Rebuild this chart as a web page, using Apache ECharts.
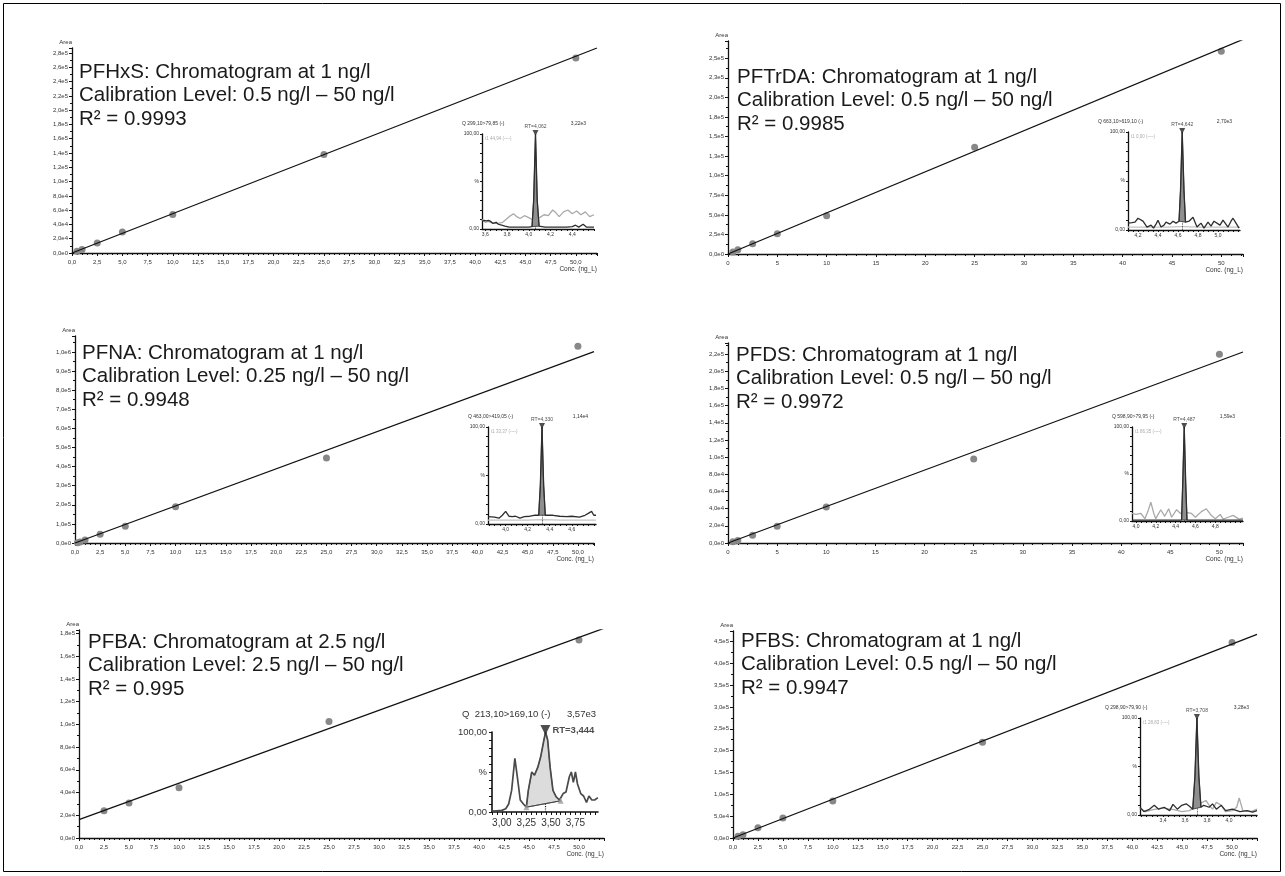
<!DOCTYPE html>
<html><head><meta charset="utf-8">
<script src="https://cdn.jsdelivr.net/npm/echarts@6/dist/echarts.min.js"></script>
<style>html,body{margin:0;padding:0;background:#fff}#c{width:1285px;height:876px}</style>
</head><body><div id="c"></div>
<script>
// ---------------- DATA ----------------
// Calibration points (concentration ng/l, area)
const concPFHxS = [0.5, 1, 2.5, 5, 10, 25, 50];
const areaPFHxS = [2500, 5000, 14000, 29500, 54000, 138000, 273000];
const fitPFHxS  = [[0, 0], [52.1, 287000]];

const concPFTrDA = [0.5, 1, 2.5, 5, 10, 25, 50];
const areaPFTrDA = [2500, 5500, 13100, 25800, 48700, 136400, 258900];
const fitPFTrDA  = [[0, 0], [52.2, 274000]];

const concPFNA = [0.25, 0.5, 1, 2.5, 5, 10, 25, 50];
const areaPFNA = [1000, 5000, 16000, 46000, 88000, 190000, 445000, 1030000];
const fitPFNA  = [[0, 0], [51.6, 1001000]];

const concPFDS = [0.5, 1, 2.5, 5, 10, 25, 50];
const areaPFDS = [1500, 3000, 8900, 19400, 42000, 98000, 220000];
const fitPFDS  = [[0, 0], [52.4, 222500]];

const concPFBA = [2.5, 5, 10, 25, 50];
const areaPFBA = [24000, 30700, 44200, 102500, 174200];
const fitPFBA  = [[0, 16100], [52.5, 184500]];

const concPFBS = [0.5, 1, 2.5, 5, 10, 25, 50];
const areaPFBS = [3800, 7600, 23600, 45700, 84500, 219000, 447500];
const fitPFBS  = [[0, 0], [52.5, 466500]];

// Header texts
const headerPFHxS  = ['PFHxS: Chromatogram at 1 ng/l', 'Calibration Level: 0.5 ng/l – 50 ng/l', 'R² = 0.9993'];
const headerPFTrDA = ['PFTrDA: Chromatogram at 1 ng/l', 'Calibration Level: 0.5 ng/l – 50 ng/l', 'R² = 0.9985'];
const headerPFNA   = ['PFNA: Chromatogram at 1 ng/l', 'Calibration Level: 0.25 ng/l – 50 ng/l', 'R² = 0.9948'];
const headerPFDS   = ['PFDS: Chromatogram at 1 ng/l', 'Calibration Level: 0.5 ng/l – 50 ng/l', 'R² = 0.9972'];
const headerPFBA   = ['PFBA: Chromatogram at 2.5 ng/l', 'Calibration Level: 2.5 ng/l – 50 ng/l', 'R² = 0.995'];
const headerPFBS   = ['PFBS: Chromatogram at 1 ng/l', 'Calibration Level: 0.5 ng/l – 50 ng/l', 'R² = 0.9947'];

// Chromatogram insets: [retention time (min), relative intensity %]
const rtPFHxS = 4.062;
const quantPFHxS = [[3.57,8],[3.59,9],[3.61,8.5],[3.63,9],[3.65,8],[3.67,6],[3.70,7],[3.72,5],[3.75,4],[3.78,3],[3.82,2],[3.9,2],[4.0,2],[4.03,2.5],[4.045,30],[4.062,100],[4.078,30],[4.095,3],[4.15,2],[4.25,2],[4.35,2],[4.40,2.5],[4.43,4],[4.46,2],[4.50,5],[4.53,2],[4.6,2]];
const qualPFHxS  = [[3.57,10],[3.6,7],[3.63,8],[3.67,6],[3.72,6],[3.76,7],[3.79,10],[3.82,13],[3.86,16],[3.89,13],[3.92,11],[3.96,14],[4.0,12],[4.03,10],[4.1,12],[4.14,15],[4.18,14],[4.22,20],[4.25,17],[4.28,13],[4.32,18],[4.36,20],[4.4,16],[4.44,19],[4.48,15],[4.52,18],[4.56,13],[4.6,15]];
const ticksPFHxS = [3.6, 3.8, 4.0, 4.2, 4.4];

const rtPFTrDA = 4.642;
const quantPFTrDA = [[4.10,7],[4.14,7.5],[4.17,8],[4.2,12],[4.22,14],[4.25,9],[4.29,3],[4.33,5],[4.355,2],[4.38,6],[4.40,10],[4.43,3],[4.46,5],[4.48,8],[4.52,6],[4.55,9],[4.58,7],[4.61,9],[4.625,40],[4.642,100],[4.66,40],[4.675,8],[4.71,9],[4.75,13],[4.79,3],[4.83,7],[4.86,2],[4.9,8],[4.93,4],[4.96,9],[4.98,11],[5.02,5],[5.05,10],[5.07,8],[5.1,3],[5.13,9],[5.15,12],[5.18,7],[5.21,2]];
const qualPFTrDA  = [[4.10,3],[4.3,3],[4.5,3],[4.62,3.5],[4.64,4],[4.66,3.5],[4.8,3],[5.0,3],[5.22,3]];
const ticksPFTrDA = [4.2, 4.4, 4.6, 4.8, 5.0];

const rtPFNA = 4.330;
const quantPFNA = [[3.84,7.5],[3.9,7],[3.94,6],[3.97,9],[4.0,13],[4.03,8],[4.06,7.5],[4.09,8],[4.13,6],[4.17,7.5],[4.22,8],[4.26,9],[4.3,9],[4.315,40],[4.33,100],[4.345,40],[4.36,9],[4.43,9],[4.49,8],[4.55,7.5],[4.6,8],[4.67,7],[4.72,9],[4.75,11],[4.78,13],[4.8,9],[4.82,9]];
const qualPFNA  = [[3.84,4],[4.0,4],[4.2,4],[4.33,4.5],[4.5,4],[4.7,4],[4.82,4]];
const ticksPFNA = [4.0, 4.2, 4.4, 4.6];

const rtPFDS = 4.487;
const quantPFDS = [[3.96,1],[4.2,1],[4.46,1],[4.472,40],[4.487,100],[4.502,40],[4.515,1],[4.8,1],[5.08,1]];
const qualPFDS  = [[3.96,8],[4.0,7],[4.05,8],[4.09,2.5],[4.12,10],[4.15,20],[4.18,8],[4.2,2.5],[4.25,12],[4.29,5],[4.33,13],[4.36,4],[4.41,12],[4.45,8],[4.48,10],[4.52,9],[4.56,8],[4.6,4],[4.66,10],[4.71,13],[4.76,6],[4.8,2.5],[4.85,7],[4.88,2],[4.93,4],[4.98,6],[5.04,2],[5.08,3]];
const ticksPFDS = [4.0, 4.2, 4.4, 4.6, 4.8];

const rtPFBA = 3.444;
const quantPFBA = [[2.9,1],[2.92,1],[2.95,1.5],[3.0,2],[3.04,4],[3.07,10],[3.1,27],[3.133,67],[3.158,44],[3.188,15],[3.22,10],[3.25,6],[3.27,27],[3.305,50],[3.333,46],[3.367,56],[3.396,69],[3.429,90],[3.446,100],[3.467,90],[3.492,56],[3.521,27],[3.554,19],[3.588,15],[3.625,23],[3.654,25],[3.688,44],[3.708,50],[3.729,37],[3.75,50],[3.771,35],[3.804,23],[3.833,20],[3.863,12],[3.888,20],[3.917,15],[3.946,15],[3.979,18]];
const qualPFBA  = [];
const baselinePFBA = [[3.25, 6], [3.6, 14]];
const ticksPFBA = [3.0, 3.25, 3.5, 3.75];

const rtPFBS = 3.708;
const quantPFBS = [[3.19,8],[3.225,3.5],[3.27,5.5],[3.32,10],[3.36,6],[3.41,8],[3.46,4.5],[3.49,11],[3.53,6],[3.57,10],[3.61,11.5],[3.64,9],[3.67,6],[3.69,40],[3.708,100],[3.726,40],[3.745,8],[3.77,10],[3.82,8],[3.85,11.5],[3.885,6],[3.93,10],[3.97,4.5],[4.03,6],[4.1,3.5],[4.165,4.5],[4.215,3],[4.255,4.5]];
const qualPFBS  = [[3.19,7],[3.24,3.5],[3.31,5.5],[3.39,7],[3.5,5.5],[3.57,3.5],[3.64,4.5],[3.69,8],[3.74,12],[3.79,15],[3.82,10],[3.85,6],[3.885,13],[3.93,10],[3.967,3.5],[4.03,4.5],[4.07,8],[4.093,17.5],[4.126,4.5],[4.2,3.5],[4.255,6]];
const ticksPFBS = [3.4, 3.6, 3.8, 4.0];

// Inset texts
const insetTitles = ['Q 299,10>79,85 (-)', 'Q 663,10>619,10 (-)', 'Q 463,00>419,05 (-)', 'Q 598,90>79,95 (-)', 'Q  213,10>169,10 (-)', 'Q 298,90>79,90 (-)'];
const insetIntensity = ['3,22e3', '2,70e3', '1,14e4', '1,59e3', '3,57e3', '3,28e3'];
const insetRtLabel = ['RT=4,062', 'RT=4,642', 'RT=4,330', 'RT=4,487', 'RT=3,444', 'RT=3,708'];
const insetTrace2 = ['t1 44,94 (----)', 't1 0,00 (----)', 't1 33,37 (----)', 't1 86,35 (----)', '', 't1 28,83 (----)'];

// ---------------- LAYOUT ----------------
const mainLayout = [
  {left: 72,  top: 48,  width: 525, height: 205},
  {left: 728, top: 41,  width: 515, height: 213},
  {left: 75,  top: 336, width: 519, height: 207},
  {left: 728, top: 343, width: 515, height: 200},
  {left: 79,  top: 630, width: 525, height: 208},
  {left: 733, top: 631, width: 524, height: 207}
];
const insetLayout = [
  {left: 482,  top: 134, width: 112, height: 95},
  {left: 1128, top: 132, width: 112, height: 98},
  {left: 488,  top: 427, width: 108, height: 97},
  {left: 1132, top: 427, width: 111, height: 94},
  {left: 492,  top: 732, width: 106, height: 80},
  {left: 1140, top: 718, width: 117, height: 97}
];
const headerPos = [[79, 72], [737, 77], [82, 353], [736, 355], [88, 642], [741, 641]];
const titleOffset = [-20, -30, -20, -20, -30, -35];

const panels = [
  {conc: concPFHxS, area: areaPFHxS, fit: fitPFHxS, header: headerPFHxS, yMax: 287000, yStep: 20000, xMax: 52.1, xInt: false,
   quant: quantPFHxS, qual: qualPFHxS, rt: rtPFHxS, ticks: ticksPFHxS, xr: [3.57, 4.6]},
  {conc: concPFTrDA, area: areaPFTrDA, fit: fitPFTrDA, header: headerPFTrDA, yMax: 272000, yStep: 25000, xMax: 52.2, xInt: true,
   quant: quantPFTrDA, qual: qualPFTrDA, rt: rtPFTrDA, ticks: ticksPFTrDA, xr: [4.1, 5.22]},
  {conc: concPFNA, area: areaPFNA, fit: fitPFNA, header: headerPFNA, yMax: 1083000, yStep: 100000, xMax: 51.6, xInt: false,
   quant: quantPFNA, qual: qualPFNA, rt: rtPFNA, ticks: ticksPFNA, xr: [3.84, 4.82]},
  {conc: concPFDS, area: areaPFDS, fit: fitPFDS, header: headerPFDS, yMax: 233000, yStep: 20000, xMax: 52.4, xInt: true,
   quant: quantPFDS, qual: qualPFDS, rt: rtPFDS, ticks: ticksPFDS, xr: [3.96, 5.08]},
  {conc: concPFBA, area: areaPFBA, fit: fitPFBA, header: headerPFBA, yMax: 183000, yStep: 20000, xMax: 52.5, xInt: false,
   quant: quantPFBA, qual: qualPFBA, rt: rtPFBA, ticks: ticksPFBA, xr: [2.9, 3.98], big: true, baseline: baselinePFBA},
  {conc: concPFBS, area: areaPFBS, fit: fitPFBS, header: headerPFBS, yMax: 474000, yStep: 50000, xMax: 52.5, xInt: false,
   quant: quantPFBS, qual: qualPFBS, rt: rtPFBS, ticks: ticksPFBS, xr: [3.19, 4.255]}
];

// ---------------- BUILD ----------------
const FONT = 'Liberation Sans, Arial, sans-serif';
const sci = v => {
  if (v === 0) return '0,0e0';
  let e = Math.floor(Math.log10(v) + 1e-9);
  let s = (v / Math.pow(10, e)).toFixed(1);
  if (s === '10.0') { e++; s = '1.0'; }
  return s.replace('.', ',') + 'e' + e;
};

const grids = [], xAxes = [], yAxes = [], series = [], graphics = [];

graphics.push({type: 'rect', shape: {x: 3.5, y: 3.5, width: 1277, height: 868},
  style: {fill: 'none', stroke: '#000', lineWidth: 1}, silent: true});

panels.forEach((p, i) => {
  const L = mainLayout[i];
  grids.push(Object.assign({}, L));
  xAxes.push({
    type: 'value', gridIndex: i, min: 0, max: p.xMax, interval: p.xInt ? 5 : 2.5,
    name: 'Conc. (ng_L)', nameLocation: 'end', nameGap: 0,
    nameTextStyle: {fontSize: 6.5, color: '#333', fontFamily: FONT, align: 'right', verticalAlign: 'top', padding: [13, 0, 0, 0]},
    axisLine: {onZero: false, lineStyle: {color: '#111', width: 1.3}},
    axisTick: {length: 3, lineStyle: {color: '#111'}},
    minorTick: {show: true, splitNumber: 5, length: 2, lineStyle: {color: '#111'}},
    splitLine: {show: false},
    axisLabel: {fontSize: 6, color: '#333', fontFamily: FONT, margin: 6, showMaxLabel: false,
      formatter: v => p.xInt ? String(Math.round(v)) : v.toFixed(1).replace('.', ',')}
  });
  yAxes.push({
    type: 'value', gridIndex: i, min: 0, max: p.yMax, interval: p.yStep,
    name: 'Area', nameLocation: 'end', nameGap: 3,
    nameTextStyle: {fontSize: 6, color: '#333', fontFamily: FONT, align: 'right'},
    axisLine: {show: true, lineStyle: {color: '#111', width: 1.3}},
    axisTick: {show: true, length: 3, lineStyle: {color: '#111'}},
    minorTick: {show: true, splitNumber: 2, length: 2, lineStyle: {color: '#111'}},
    splitLine: {show: false},
    axisLabel: {fontSize: 6, color: '#333', fontFamily: FONT, margin: 4, showMaxLabel: false, formatter: sci}
  });
  series.push({
    type: 'line', xAxisIndex: i, yAxisIndex: i, data: p.fit, symbol: 'none', silent: true, z: 3,
    lineStyle: {color: '#111', width: 1.3}
  });
  series.push({
    type: 'scatter', xAxisIndex: i, yAxisIndex: i, data: p.conc.map((c, k) => [c, p.area[k]]),
    symbolSize: 7, itemStyle: {color: '#888', opacity: 1}, z: 2, silent: true
  });
  const hp = headerPos[i];
  graphics.push({type: 'text', x: hp[0], y: hp[1] - 11.75, silent: true, z: 10,
    style: {text: p.header.join('\n'), fontSize: 20.5, fontFamily: FONT, fill: '#1a1a1a', lineHeight: 23.5, verticalAlign: 'top', align: 'left'}});
});

panels.forEach((p, i) => {
  const gi = 6 + i;
  const L = insetLayout[i];
  const big = !!p.big;
  const fs = big ? 9.5 : 5;
  grids.push(Object.assign({}, L));
  const step = big ? 0.05 : 0.05;
  const tickVals = [];
  for (let t = Math.ceil(p.xr[0] / step - 1e-9) * step; t <= p.xr[1] + 1e-9; t += step) tickVals.push(+t.toFixed(3));
  xAxes.push({
    type: 'value', gridIndex: gi, min: p.xr[0], max: p.xr[1],
    axisLine: {onZero: false, lineStyle: {color: '#111', width: big ? 1.6 : 1.3}},
    axisTick: {customValues: tickVals, length: big ? 3 : 2, lineStyle: {color: '#111'}},
    splitLine: {show: false},
    axisLabel: {customValues: p.ticks, fontSize: big ? 10 : 5, color: '#333', fontFamily: FONT, margin: big ? 6 : 3,
      formatter: v => big ? v.toFixed(2).replace('.', ',') : v.toFixed(1).replace('.', ',')}
  });
  yAxes.push({
    type: 'value', gridIndex: gi, min: 0, max: 100, interval: 10,
    axisLine: {show: true, lineStyle: {color: '#111', width: big ? 1.6 : 1.3}},
    axisTick: {show: true, length: big ? 3 : 2, lineStyle: {color: '#111'}},
    splitLine: {show: false},
    axisLabel: {fontSize: fs, color: '#333', fontFamily: FONT, margin: big ? 5 : 3,
      formatter: v => v === 100 ? '100,00' : v === 50 ? '%' : v === 0 ? '0,00' : ''}
  });
  // qualifier trace
  if (p.qual.length) {
    series.push({type: 'line', xAxisIndex: gi, yAxisIndex: gi, data: p.qual, symbol: 'none', silent: true, z: 4,
      lineStyle: {color: (i === 1 || i === 2) ? '#c4c4c4' : '#a9a9a9', width: 1.3}});
  }
  // peak fill polygon
  let poly;
  if (p.baseline) {
    poly = p.quant.filter(d => d[0] >= p.baseline[0][0] && d[0] <= p.baseline[1][0] - 0.005).concat([p.baseline[1]]);
  } else {
    poly = p.quant.filter(d => Math.abs(d[0] - p.rt) <= 0.04);
  }
  series.push({
    type: 'custom', xAxisIndex: gi, yAxisIndex: gi, silent: true, z: 5, data: [poly[0]],
    renderItem: (params, api) => ({
      type: 'polygon', shape: {points: poly.map(pt => api.coord(pt))},
      style: {fill: big ? '#dcdcdc' : '#8f8f8f', stroke: big ? '#555' : '#333', lineWidth: 0.8}
    })
  });
  // quantifier trace
  series.push({
    type: 'line', xAxisIndex: gi, yAxisIndex: gi, data: p.quant, symbol: 'none', silent: true, z: 6,
    lineStyle: {color: big ? '#4a4a4a' : '#2e2e2e', width: big ? 1.7 : 1.3},
    markLine: {silent: true, symbol: ['none', 'none'], label: {show: false},
      lineStyle: {type: 'dotted', color: '#222', width: big ? 1.2 : 0.8}, data: [{xAxis: p.rt}]}
  });
  // peak apex marker with RT label
  series.push({
    type: 'scatter', xAxisIndex: gi, yAxisIndex: gi, data: [[p.rt, 100]], silent: true, z: 7,
    symbol: 'triangle', symbolRotate: 180, symbolSize: big ? 10 : 6, symbolOffset: [0, big ? -2 : -1],
    itemStyle: {color: '#222'},
    label: {show: true, formatter: insetRtLabel[i], position: big ? 'right' : 'top', distance: big ? 2 : 1,
      fontSize: big ? 9.5 : 5, fontWeight: big ? 'bold' : 'normal', color: '#222', fontFamily: FONT}
  });
  if (p.baseline) {
    series.push({
      type: 'scatter', xAxisIndex: gi, yAxisIndex: gi, data: p.baseline, silent: true, z: 7,
      symbol: 'triangle', symbolSize: 6, itemStyle: {color: '#9a9a9a'}
    });
    series.push({
      type: 'line', xAxisIndex: gi, yAxisIndex: gi, data: p.baseline, symbol: 'none', silent: true, z: 6,
      lineStyle: {color: '#444', width: 1}
    });
  }
  // texts around the inset
  const ty = L.top - (big ? 18 : 10);
  graphics.push({type: 'text', x: L.left + titleOffset[i], y: ty, silent: true,
    style: {text: insetTitles[i], fontSize: fs, fontFamily: FONT, fill: '#333', verticalAlign: 'middle', align: 'left'}});
  graphics.push({type: 'text', x: L.left + L.width - (big ? 2 : 8), y: ty, silent: true,
    style: {text: insetIntensity[i], fontSize: fs, fontFamily: FONT, fill: '#333', verticalAlign: 'middle', align: 'right'}});
  if (insetTrace2[i]) {
    graphics.push({type: 'text', x: L.left + 3, y: L.top + 5, silent: true,
      style: {text: insetTrace2[i], fontSize: 4.5, fontFamily: FONT, fill: '#aaa', verticalAlign: 'middle', align: 'left'}});
  }
});

const chart = echarts.init(document.getElementById('c'), null, {renderer: 'canvas'});
chart.setOption({
  backgroundColor: '#fff',
  animation: false,
  grid: grids, xAxis: xAxes, yAxis: yAxes, series: series, graphic: graphics
});
</script></body></html>
